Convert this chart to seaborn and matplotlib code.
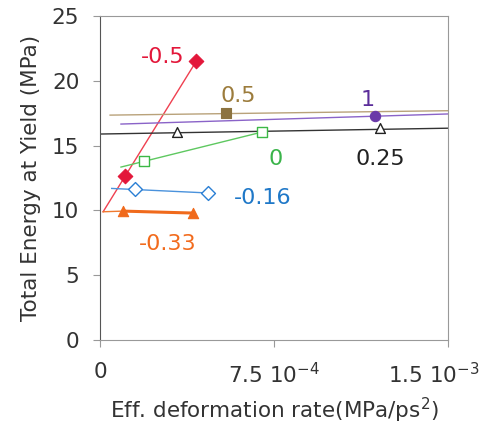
import numpy as np
import matplotlib
matplotlib.use("Agg")
import matplotlib.pyplot as plt
import matplotlib.transforms as mtransforms
import seaborn as sns

# series labels (value of the parameter)
labels = ['-0.5', '0.5', '1', '0.25', '0', '-0.16', '-0.33']
colors = ['#e3173a', '#8c7340', '#6a3aa8', '#222222', '#3cb846', '#2a7fd4', '#f06a1c']
text_colors = ['#e3173a', '#9c7c3c', '#5b2d9a', '#222222', '#3ab44a', '#1f78c8', '#f26b1d']
line_colors = ['#ef4050', '#b9a27a', '#8a63c8', '#333333', '#5ec860', '#4a92dc', '#f07a30']
markers = ['D', 's', 'o', '^', 's', 'D', '^']
filled = [True, True, True, False, False, False, True]

# measured points (x in units of 1e-4 MPa/ps^2, y in MPa)
pts_x = [[1.08, 4.14], [5.43], [11.85], [3.32, 12.07], [1.9, 6.98], [1.5, 4.66], [1.0, 4.0]]
pts_y = [[12.65, 21.5], [17.5], [17.3], [16.05, 16.4], [13.8, 16.05], [11.65, 11.35], [9.95, 9.8]]

# trend lines (start, end)
trend_x = [[0.13, 4.14], [0.43, 15.0], [0.9, 15.0], [0.0, 15.0], [0.9, 6.98], [0.5, 4.66], [0.13, 1.0]]
trend_y = [[9.9, 21.5], [17.36, 17.7], [16.67, 17.45], [15.9, 16.35], [13.35, 16.05], [11.7, 11.35], [9.9, 9.95]]

# label positions
lab_x = [2.72, 5.95, 11.55, 12.1, 7.55, 7.0, 2.9]
lab_y = [21.85, 18.8, 18.5, 14.0, 14.0, 10.95, 7.4]

plt.rcParams['font.family'] = ['DejaVu Sans']
plt.rcParams['mathtext.default'] = 'regular'

fig = plt.figure(figsize=(4.79, 4.25), dpi=100)
ax = fig.add_axes([0.209, 0.2, 0.726, 0.762])

for i in range(len(labels)):
    tx = np.array(trend_x[i]) * 1e-4
    sns.lineplot(x=tx, y=trend_y[i], color=line_colors[i], linewidth=1.0, ax=ax)
    px = np.array(pts_x[i]) * 1e-4
    if labels[i] == '-0.33':
        sns.lineplot(x=px, y=pts_y[i], color=colors[i], linewidth=2.2, ax=ax)
    if filled[i]:
        sns.scatterplot(x=px, y=pts_y[i], marker=markers[i], s=55, color=colors[i],
                        edgecolor=colors[i], linewidth=0.8, ax=ax, zorder=5)
    else:
        sns.scatterplot(x=px, y=pts_y[i], marker=markers[i], s=50, facecolor='white',
                        edgecolor=colors[i], linewidth=1.0, ax=ax, zorder=5)
    ax.text(lab_x[i] * 1e-4, lab_y[i], labels[i], color=text_colors[i], fontsize=16,
            ha='center', va='center')

ax.set_xlim(0, 1.5e-3)
ax.set_ylim(0, 25)
ax.set_xticks([0, 7.5e-4, 1.5e-3])
ax.set_xticklabels(['0', '7.5 10$^{-4}$', '1.5 10$^{-3}$'])
ax.set_yticks([0, 5, 10, 15, 20, 25])
ax.tick_params(axis='both', labelsize=15.5, colors='#999999', labelcolor='#333333',
               length=5, width=0.8)
ax.tick_params(axis='x', pad=11)
ax.tick_params(axis='y', pad=10)
ax.set_xlabel('Eff. deformation rate(MPa/ps$^{2}$)', fontsize=15.5, color='#333333', labelpad=6)
ax.set_ylabel('Total Energy at Yield (MPa)', fontsize=15.5, color='#333333', labelpad=8)
for side in ['top', 'right', 'bottom']:
    ax.spines[side].set_color('#999999')
ax.spines['left'].set_color('#555555')

# last x tick label is nudged left so it stays inside the figure
last = ax.get_xticklabels()[-1]
last.set_transform(last.get_transform() + mtransforms.ScaledTranslation(-0.14, 0, fig.dpi_scale_trans))

fig.savefig('out.png', dpi=100)
